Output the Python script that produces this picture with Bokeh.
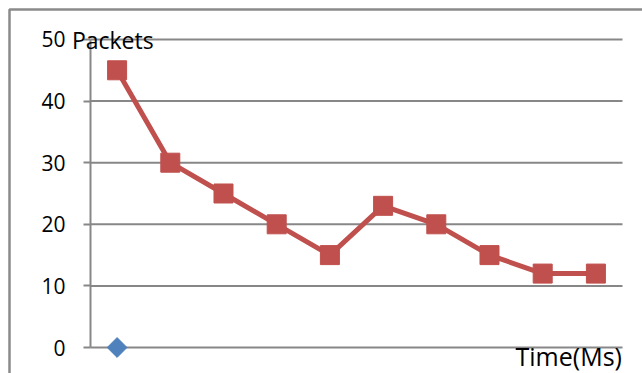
from bokeh.plotting import figure
from bokeh.models import Range1d, FixedTicker, Label, BoxAnnotation, LinearAxis
from bokeh.embed import file_html
from bokeh.resources import INLINE

# ---- data ----
time_points = [1, 2, 3, 4, 5, 6, 7, 8, 9, 10]
packets = [45, 30, 25, 20, 15, 23, 20, 15, 12, 12]
series2_x = [1]
series2_y = [0]
y_ticks = [0, 10, 20, 30, 40, 50]
y_label = "Packets"
x_label = "Time(Ms)"

RED = "#C0504D"
BLUE = "#4F81BD"
GRID = "#878787"
FONT = "Open Sans"

X0, X1 = 0.5, 10.5          # category band limits
p = figure(width=642, height=373, output_backend="svg", toolbar_location=None,
           x_axis_type=None, y_axis_type=None,
           x_range=Range1d(-1.1917, 10.876), y_range=Range1d(-4.22, 56.33),
           min_border_left=0, min_border_right=0, min_border_top=0, min_border_bottom=0)
p.outline_line_color = None
p.background_fill_color = "white"
p.border_fill_color = "white"
p.grid.visible = False

# y axis placed at the left end of the category band
ax = LinearAxis(fixed_location=X0)
ax.ticker = FixedTicker(ticks=y_ticks)
ax.bounds = (0, 50)
ax.axis_line_color = GRID
ax.axis_line_width = 2
ax.major_tick_line_color = GRID
ax.major_tick_line_width = 2
ax.major_tick_out = 7
ax.major_tick_in = 0
ax.minor_tick_line_color = None
ax.major_label_text_font = FONT
ax.major_label_text_font_size = "21px"
ax.major_label_text_color = "black"
ax.major_label_standoff = 18
p.add_layout(ax, "left")

# horizontal grid lines at the tick values
p.segment(x0=[X0] * len(y_ticks), x1=[X1] * len(y_ticks), y0=y_ticks, y1=y_ticks,
          line_color=GRID, line_width=2)

# outer chart border
p.add_layout(BoxAnnotation(left=9, right=2000, top=364, bottom=-100,
                           left_units="screen", right_units="screen",
                           top_units="screen", bottom_units="screen",
                           fill_color=None, fill_alpha=0,
                           line_color="#8A8A8A", line_width=2.5, line_alpha=1))

# series
p.line(time_points, packets, line_color=RED, line_width=5)
p.scatter(time_points, packets, marker="square", size=19, fill_color=RED, line_color=RED)
p.scatter(series2_x, series2_y, marker="square", angle=0.785398, size=14,
          fill_color=BLUE, line_color=BLUE)

# axis titles
p.add_layout(Label(x=0.15, y=49.9, text=y_label, text_font=FONT,
                   text_font_size="23px", text_color="black", text_baseline="middle"))
p.add_layout(Label(x=8.489, y=-1.46, text=x_label, text_font=FONT,
                   text_font_size="25px", text_color="black", text_baseline="middle"))

open("out.html", "w").write(file_html(p, INLINE))
